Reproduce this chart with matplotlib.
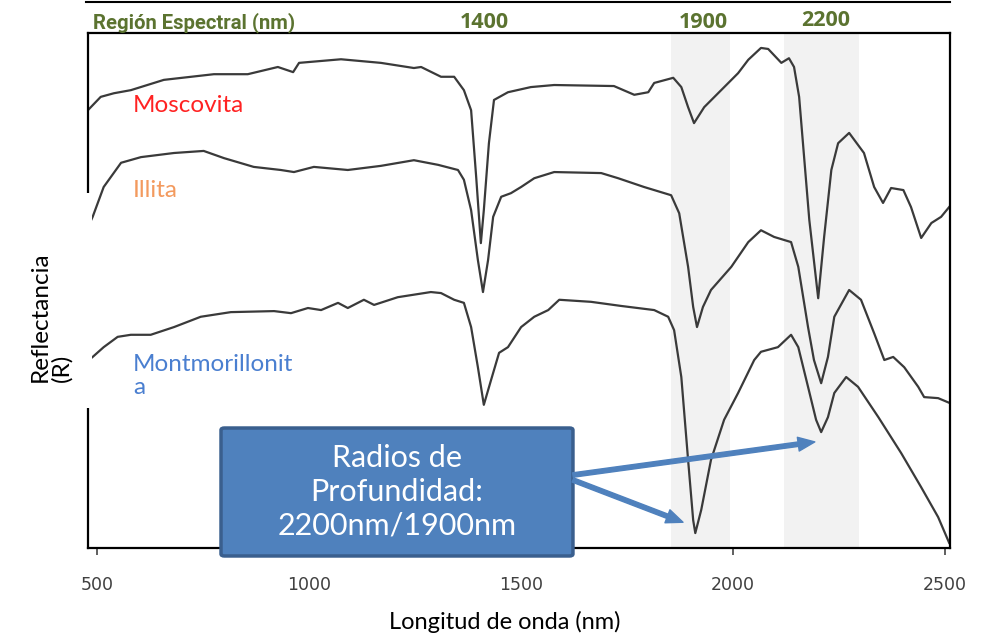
import matplotlib
matplotlib.use('Agg')
import matplotlib.pyplot as plt
from matplotlib.patches import Rectangle, FancyBboxPatch, FancyArrowPatch
from matplotlib.lines import Line2D

# espectros (longitud de onda en nm, reflectancia relativa)
mosc_wl = [480, 508, 539, 579, 657, 775, 855, 926, 962, 976, 1075, 1169, 1247, 1264, 1311,
           1342, 1365, 1382, 1394, 1405, 1412, 1424, 1436, 1469, 1523, 1578, 1719, 1767, 1800, 1814,
           1859, 1878, 1894, 1908, 1932, 1972, 2012, 2036, 2066, 2083, 2114, 2132, 2144, 2156, 2180,
           2201, 2215, 2232, 2248, 2274, 2309, 2333, 2354, 2373, 2402, 2420, 2444, 2468, 2491, 2510]
mosc_r = [85.2, 87.6, 88.3, 88.9, 90.9, 92.0, 92.0, 93.4, 92.4, 94.2, 94.9, 94.2, 93.2, 93.4, 91.5,
          91.5, 88.9, 85.0, 72.0, 59.2, 65.6, 78.6, 87.0, 88.5, 89.5, 89.9, 89.7, 88.0, 88.5, 90.3,
          91.3, 89.5, 85.6, 82.5, 85.6, 88.9, 92.2, 94.8, 97.1, 96.9, 94.2, 95.1, 93.4, 87.6, 63.7,
          48.5, 60.4, 73.4, 78.6, 80.6, 76.7, 70.1, 67.0, 69.9, 69.5, 66.2, 60.2, 63.1, 64.3, 66.2]

ill_wl = [480, 489, 515, 556, 603, 681, 751, 799, 869, 933, 964, 1011, 1091, 1169, 1247,
          1304, 1351, 1365, 1382, 1398, 1410, 1422, 1434, 1453, 1476, 1500, 1531, 1578, 1689, 1729,
          1790, 1854, 1873, 1894, 1906, 1915, 1929, 1948, 1996, 2036, 2066, 2097, 2137, 2154, 2177,
          2191, 2208, 2224, 2239, 2274, 2302, 2333, 2357, 2378, 2404, 2437, 2451, 2484, 2510]
ill_r = [62.7, 64.3, 70.1, 74.8, 75.9, 76.7, 77.1, 75.7, 74.0, 73.4, 73.0, 74.0, 73.4, 74.2, 75.3,
         74.4, 73.4, 71.5, 65.6, 55.9, 49.7, 55.9, 64.3, 68.2, 68.9, 70.1, 71.8, 73.0, 72.8, 71.8,
         70.1, 68.5, 65.0, 54.6, 46.8, 42.9, 46.8, 50.1, 54.6, 59.4, 61.7, 60.4, 59.4, 54.6, 42.9,
         36.5, 32.0, 37.1, 44.9, 50.1, 48.2, 41.7, 36.5, 37.1, 35.1, 31.3, 29.3, 29.1, 28.2]

mont_wl = [480, 489, 515, 548, 579, 626, 681, 744, 815, 917, 957, 997, 1028, 1068, 1091,
           1129, 1153, 1209, 1287, 1311, 1342, 1365, 1382, 1398, 1412, 1429, 1448, 1469, 1500, 1531,
           1564, 1590, 1665, 1736, 1814, 1847, 1861, 1878, 1894, 1906, 1911, 1925, 1948, 1979, 2012,
           2050, 2066, 2106, 2137, 2154, 2177, 2196, 2208, 2224, 2239, 2267, 2295, 2343, 2397, 2444,
           2484, 2510]
mont_r = [36.5, 37.1, 39.0, 41.0, 41.4, 41.4, 42.9, 44.9, 45.8, 46.0, 45.6, 46.6, 46.2, 47.6, 46.6,
          48.2, 47.2, 48.7, 49.7, 49.5, 48.2, 47.6, 42.9, 35.1, 27.8, 32.6, 37.9, 39.0, 42.9, 44.9,
          46.2, 48.2, 47.8, 47.0, 46.2, 44.9, 42.3, 33.2, 17.1, 5.4, 2.9, 7.4, 17.1, 24.9, 30.1,
          36.5, 38.1, 39.0, 41.4, 39.0, 31.3, 24.9, 22.5, 25.4, 30.1, 33.2, 31.3, 25.4, 18.4, 11.8,
          6.0, 1.0]

bandas = [(1854, 1993), (2121, 2298)]
bandas_txt = ['1900', '2200']
xticks = [500, 1000, 1500, 2000, 2500]

txt_font = ['Lato', 'DejaVu Sans']
green = '#5b7330'
blue = '#4f81bd'

fig = plt.figure(figsize=(9.81, 6.35), dpi=100)
ax = fig.add_axes([88 / 981, 87 / 635, 862 / 981, 515 / 635])

for a, b in bandas:
    ax.axvspan(a, b, color='#f2f2f2', zorder=0, lw=0)

for wl, r in [(mosc_wl, mosc_r), (ill_wl, ill_r), (mont_wl, mont_r)]:
    ax.plot(wl, r, color='#3a3a3a', lw=1.6, zorder=2, solid_joinstyle='round')

ax.set_xlim(478, 2512)
ax.set_ylim(0, 100)
ax.set_xticks(xticks)
ax.set_yticks([])
ax.tick_params(axis='x', direction='out', length=5, width=1.2, color='#444444',
               pad=15, labelsize=12.5, labelcolor='#404040')
for s in ax.spines.values():
    s.set_linewidth(1.6)
    s.set_color('black')

# nombres de minerales
ax.text(584, 86.0, 'Moscovita', color='#ff2222', fontsize=17.5, family=txt_font, va='center')
ax.text(584, 69.5, 'Illita', color='#f39a5e', fontsize=17.5, family=txt_font, va='center')
ax.text(584, 33.4, 'Montmorillonit\na', color='#4a7fd0', fontsize=17.5, family=txt_font,
        va='center', linespacing=1.15)

# cabecera
fig.add_artist(Line2D([86 / 981, 950 / 981], [1 - 1.5 / 635] * 2, color='black', lw=1.5))
fig.text(93 / 981, 1 - 23 / 635, 'Región Espectral (nm)', color=green, fontsize=14.6,
         fontweight='bold', family=['Roboto', 'DejaVu Sans'], va='center')
fig.text(484 / 981, 1 - 22 / 635, '1400', color=green, fontsize=15.5, fontweight='bold',
         family=['Open Sans', 'DejaVu Sans'], ha='center', va='center')
fig.text(703 / 981, 1 - 22 / 635, bandas_txt[0], color=green, fontsize=15.5, fontweight='bold',
         family=['Open Sans', 'DejaVu Sans'], ha='center', va='center')
fig.text(826 / 981, 1 - 20 / 635, bandas_txt[1], color=green, fontsize=15.5, fontweight='bold',
         family=['Open Sans', 'DejaVu Sans'], ha='center', va='center')

# eje Y tapado con blanco
fig.add_artist(Rectangle((0, 1 - 408 / 635), 92 / 981, 215 / 635, transform=fig.transFigure,
                         facecolor='white', edgecolor='none', zorder=3))
fig.text(51 / 981, 1 - 317 / 635, 'Reflectancia\n(R)', rotation=90, ha='center', va='center',
         multialignment='left', fontsize=17.5, family=txt_font, zorder=4, linespacing=1.05)
fig.text(505 / 981, 1 - 622 / 635, 'Longitud de onda (nm)', ha='center', va='center',
         fontsize=17, family=txt_font)

# caja de texto
box = FancyBboxPatch((0.1543, -0.0155), 0.4083, 0.2485, boxstyle='round,pad=0,rounding_size=0.004',
                     transform=ax.transAxes, facecolor=blue, edgecolor='#3a5f8e', lw=2.5,
                     clip_on=False, zorder=5)
ax.add_patch(box)
ax.text(0.3585, 0.1087, 'Radios de\nProfundidad:\n2200nm/1900nm', transform=ax.transAxes,
        ha='center', va='center', color='white', fontsize=22, family=txt_font,
        linespacing=1.25, zorder=6)

# flechas
for tip in [(2193, 20.6), (1882, 5.0)]:
    start = (0.5626, 0.1417) if tip[0] > 2000 else (0.5626, 0.132)
    arr = FancyArrowPatch(ax.transAxes.transform(start), ax.transData.transform(tip),
                          transform=None, arrowstyle='simple,head_length=0.6,head_width=0.5,tail_width=0.16',
                          mutation_scale=20, color=blue, shrinkA=0, shrinkB=0, zorder=6)
    fig.add_artist(arr)

fig.savefig('out.png', dpi=100)
